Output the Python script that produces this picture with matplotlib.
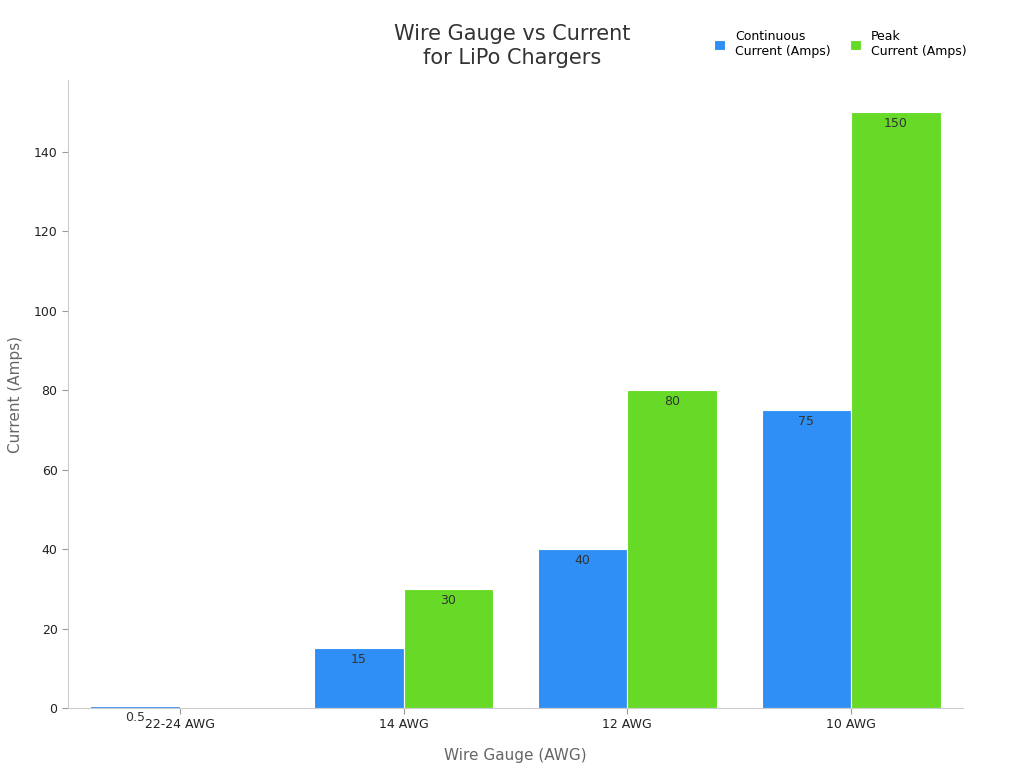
import numpy as np
import matplotlib.pyplot as plt

categories = ['22-24 AWG', '14 AWG', '12 AWG', '10 AWG']
continuous = [0.5, 15, 40, 75]
peak = [0, 30, 80, 150]

fig = plt.figure(figsize=(10.24, 7.68), dpi=100)
ax = fig.add_axes([68/1024, 60/768, 895/1024, 628/768])

x = np.arange(len(categories))
w = 0.4
b1 = ax.bar(x - w/2, continuous, w, color='#2f8ff5', edgecolor='white', linewidth=0.8,
            label='Continuous\nCurrent (Amps)')
b2 = ax.bar(x + w/2, peak, w, color='#66da26', edgecolor='white', linewidth=0.8,
            label='Peak\nCurrent (Amps)')

for bars, vals in ((b1, continuous), (b2, peak)):
    for r, v in zip(bars, vals):
        if v <= 0:
            continue
        ax.text(r.get_x() + r.get_width()/2, v - 1.2, '{:g}'.format(v),
                ha='center', va='top', fontsize=9, color='#333333')

ax.set_xlim(-0.5, 3.5)
ax.set_ylim(0, 158)
ax.set_xticks(x)
ax.set_xticklabels(categories, fontsize=9, color='#222222')
ax.set_yticks(range(0, 141, 20))
ax.tick_params(axis='y', labelsize=9, colors='#222222', length=4, color='#999999')
ax.tick_params(axis='x', length=4, color='#999999')
for s in ('top', 'right'):
    ax.spines[s].set_visible(False)
for s in ('left', 'bottom'):
    ax.spines[s].set_color('#cccccc')

ax.set_xlabel('Wire Gauge (AWG)', fontsize=11, color='#666666', labelpad=12)
ax.set_ylabel('Current (Amps)', fontsize=11, color='#666666', labelpad=8)
fig.text(0.5, 0.94, 'Wire Gauge vs Current\nfor LiPo Chargers', ha='center', va='center',
         fontsize=15, color='#333333', linespacing=1.3)
fig.legend(loc='upper right', bbox_to_anchor=(0.955, 0.975), ncol=2, frameon=False,
           fontsize=9, handlelength=0.9, handleheight=0.9, columnspacing=1.5)

fig.savefig('out.png')
